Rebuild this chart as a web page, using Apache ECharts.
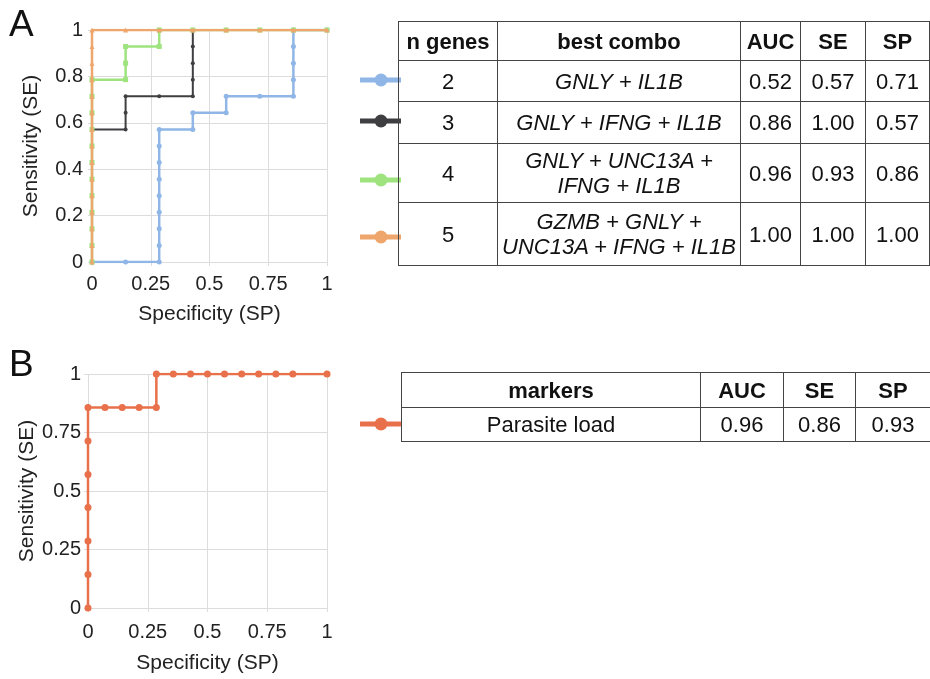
<!DOCTYPE html>
<html>
<head>
<meta charset="utf-8">
<script src="https://cdn.jsdelivr.net/npm/echarts@6/dist/echarts.min.js"></script>
<style>
body { margin: 0; background: #fff; font-family: "Liberation Sans", Arial, sans-serif; }
#main { position: absolute; left: 0; top: 0; width: 930px; height: 679px; }
table { position: absolute; border-collapse: collapse; font-size: 22px; color: #111; table-layout: fixed; }
td, th { border: 1px solid #444; text-align: center; padding: 0; line-height: 25px; white-space: nowrap; }
th { font-weight: bold; }
.gene { font-style: italic; }
.letter { position: absolute; font-size: 37px; color: #111; line-height: 1; }
</style>
</head>
<body>
<div id="main"></div>
<div class="letter" style="left:9px;top:5px">A</div>
<div class="letter" style="left:9px;top:345px">B</div>
<table id="tabA" style="left:398px;top:21px;width:531px"></table>
<table id="tabB" style="left:401px;top:372px;width:529px"></table>
<script>
// panel A: ROC curves of the best gene combos
var seriesNames = ['2', '3', '4', '5'];
var seriesColors = ['#8fb6e6', '#3f3f42', '#9ee37d', '#eea66c'];
var roc2 = [[0, 0], [0.143, 0], [0.286, 0], [0.286, 0.071], [0.286, 0.143], [0.286, 0.214], [0.286, 0.286],
    [0.286, 0.357], [0.286, 0.429], [0.286, 0.5], [0.286, 0.571], [0.429, 0.571], [0.429, 0.643],
    [0.571, 0.643], [0.571, 0.714], [0.714, 0.714], [0.857, 0.714], [0.857, 0.786], [0.857, 0.857],
    [0.857, 0.929], [0.857, 1], [1, 1]];
var roc3 = [[0, 0], [0, 0.571], [0.143, 0.571], [0.143, 0.643], [0.143, 0.714], [0.286, 0.714], [0.429, 0.714],
    [0.429, 0.786], [0.429, 0.857], [0.429, 0.929], [0.429, 1], [0.571, 1], [0.714, 1], [0.857, 1], [1, 1]];
var roc4 = [[0, 0], [0, 0.071], [0, 0.143], [0, 0.214], [0, 0.286], [0, 0.357], [0, 0.429], [0, 0.5],
    [0, 0.571], [0, 0.643], [0, 0.714], [0, 0.786], [0.143, 0.786], [0.143, 0.857], [0.143, 0.929],
    [0.286, 0.929], [0.286, 1], [0.429, 1], [0.571, 1], [0.714, 1], [0.857, 1], [1, 1]];
var roc5 = [[0, 0], [0, 0.071], [0, 0.143], [0, 0.214], [0, 0.286], [0, 0.357], [0, 0.429], [0, 0.5],
    [0, 0.571], [0, 0.643], [0, 0.714], [0, 0.786], [0, 0.857], [0, 0.929], [0, 1], [0.143, 1],
    [0.286, 1], [0.429, 1], [0.571, 1], [0.714, 1], [0.857, 1], [1, 1]];
var symbolsA = ['circle', 'circle', 'rect', 'triangle'];

// panel B: parasite load
var rocParasite = [[0, 0], [0, 0.143], [0, 0.286], [0, 0.429], [0, 0.571], [0, 0.714], [0, 0.857],
    [0.071, 0.857], [0.143, 0.857], [0.214, 0.857], [0.286, 0.857], [0.286, 1], [0.357, 1], [0.429, 1],
    [0.5, 1], [0.571, 1], [0.643, 1], [0.714, 1], [0.786, 1], [0.857, 1], [1, 1]];
var parasiteColor = '#e8704a';

// tables
var nGenes = ['2', '3', '4', '5'];
var combos = ['GNLY + IL1B', 'GNLY + IFNG + IL1B', 'GNLY + UNC13A +<br>IFNG + IL1B',
    'GZMB + GNLY +<br>UNC13A + IFNG + IL1B'];
var aucA = ['0.52', '0.86', '0.96', '1.00'];
var seA = ['0.57', '1.00', '0.93', '1.00'];
var spA = ['0.71', '0.57', '0.86', '1.00'];
var markers = ['Parasite load'];
var aucB = ['0.96'], seB = ['0.86'], spB = ['0.93'];

var rowHeightsA = [39, 41, 42, 59, 63];
var html = '<colgroup><col style="width:99px"><col style="width:243px"><col style="width:60px">' +
    '<col style="width:65px"><col style="width:64px"></colgroup>';
html += '<tr style="height:' + rowHeightsA[0] + 'px"><th>n genes</th><th>best combo</th><th>AUC</th><th>SE</th><th>SP</th></tr>';
for (var i = 0; i < nGenes.length; i++) {
    html += '<tr style="height:' + rowHeightsA[i + 1] + 'px"><td>' + nGenes[i] + '</td><td class="gene">' + combos[i] +
        '</td><td>' + aucA[i] + '</td><td>' + seA[i] + '</td><td>' + spA[i] + '</td></tr>';
}
document.getElementById('tabA').innerHTML = html;

html = '<colgroup><col style="width:299px"><col style="width:83px"><col style="width:72px"><col style="width:75px"></colgroup>';
html += '<tr style="height:35px"><th>markers</th><th>AUC</th><th>SE</th><th>SP</th></tr>';
for (var j = 0; j < markers.length; j++) {
    html += '<tr style="height:34px"><td>' + markers[j] + '</td><td>' + aucB[j] + '</td><td>' + seB[j] +
        '</td><td>' + spB[j] + '</td></tr>';
}
document.getElementById('tabB').innerHTML = html;

var myChart = echarts.init(document.getElementById('main'));
var nameFont = { color: '#222', fontSize: 21, fontFamily: 'Liberation Sans' };
var gridLine = { lineStyle: { color: '#dcdcdc', width: 1 } };

function valueAxis(grid, interval, name, gap, margin) {
    return {
        type: 'value', gridIndex: grid, min: 0, max: 1, interval: interval,
        name: name, nameLocation: 'middle', nameGap: gap, nameTextStyle: nameFont,
        axisLine: { show: false },
        axisTick: { show: true, length: 4, lineStyle: { color: '#dcdcdc' } },
        axisLabel: { color: '#222', fontSize: 20, fontFamily: 'Liberation Sans', margin: margin },
        splitLine: gridLine
    };
}

var rocsA = [roc2, roc3, roc4, roc5];
var series = [];
for (var k = 0; k < rocsA.length; k++) {
    series.push({
        name: seriesNames[k], type: 'line', xAxisIndex: 0, yAxisIndex: 0, data: rocsA[k],
        symbol: symbolsA[k], symbolSize: k == 1 ? 4 : 5, showAllSymbol: true,
        lineStyle: { color: seriesColors[k], width: k == 1 ? 2 : 2.5 },
        itemStyle: { color: seriesColors[k] }, z: k == 2 ? 4 : 2 + k
    });
}
series.push({
    name: 'Parasite load', type: 'line', xAxisIndex: 1, yAxisIndex: 1, data: rocParasite,
    symbol: 'circle', symbolSize: 7, showAllSymbol: true,
    lineStyle: { color: parasiteColor, width: 2.5 }, itemStyle: { color: parasiteColor }
});

// legend keys drawn next to the table rows
var keyY = [80, 121, 180, 237];
var graphics = [];
function legendKey(y, color) {
    graphics.push({ type: 'line', shape: { x1: 360, y1: y, x2: 401, y2: y }, style: { stroke: color, lineWidth: 5 } });
    graphics.push({ type: 'circle', shape: { cx: 381, cy: y, r: 6.5 }, style: { fill: color } });
}
for (var m = 0; m < keyY.length; m++) legendKey(keyY[m], seriesColors[m]);
legendKey(424, parasiteColor);

var options = {
    animation: false,
    grid: [
        { left: 92, right: 603, top: 30, bottom: 417 },
        { left: 88, right: 603, top: 374, bottom: 71 }
    ],
    xAxis: [valueAxis(0, 0.25, 'Specificity (SP)', 42, 12), valueAxis(1, 0.25, 'Specificity (SP)', 45, 14)],
    yAxis: [valueAxis(0, 0.2, 'Sensitivity (SE)', 50, 9), valueAxis(1, 0.25, 'Sensitivity (SE)', 46, 7)],
    graphic: graphics,
    series: series
};

myChart.setOption(options);
</script>
</body>
</html>
